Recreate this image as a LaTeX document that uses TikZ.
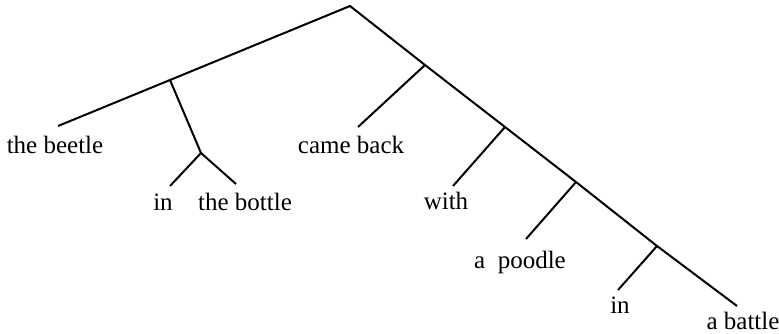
\documentclass[tikz,border=0pt]{standalone}
\usepackage{fontspec}
\setmainfont{Liberation Serif}
\usepackage{tikz}

\begin{document}
\begin{tikzpicture}[
            x = 0.5pt, y = -0.5pt, % one unit per pixel, y going down
            line width = 1pt, % line style
            word/.style = {anchor=base, inner sep=0pt,
                           font=\fontsize{12.5}{15}\selectfont}
        ]
\useasboundingbox (0,0) rectangle (779,333);

% inner points of the tree
\coordinate (S) at (350,6);
\coordinate (L1) at (170,80);
\coordinate (L2) at (201,153);
\coordinate (R1) at (425,65);
\coordinate (R2) at (505,127);
\coordinate (R3) at (576,182);
\coordinate (R4) at (657,246);

% ends of the branches
\coordinate (beetleEnd) at (58,126);
\coordinate (inEnd) at (170,186);
\coordinate (bottleEnd) at (236,184);
\coordinate (cameEnd) at (358,127);
\coordinate (withEnd) at (453,186);
\coordinate (poodleEnd) at (526,239);
\coordinate (in2End) at (618,290);
\coordinate (battleEnd) at (737,306);

% words
\node[word] (beetle) at (55,153) {the beetle};
\node[word] (in) at (163,210) {in};
\node[word] (bottle) at (245,210) {the bottle};
\node[word] (came) at (351,153) {came back};
\node[word] (with) at (446,209) {with};
\node[word] (poodle) at (520,268) {a\ \ poodle};
\node[word] (in2) at (620,313) {in};
\node[word] (battle) at (743,329) {a battle};

\draw (beetleEnd) -- (L1) -- (S) -- (R1) -- (R2) -- (R3) -- (R4) -- (battleEnd);
\draw (L1) -- (L2);
\draw (inEnd) -- (L2) -- (bottleEnd);
\draw (R1) -- (cameEnd);
\draw (R2) -- (withEnd);
\draw (R3) -- (poodleEnd);
\draw (R4) -- (in2End);
\end{tikzpicture}
\end{document}
